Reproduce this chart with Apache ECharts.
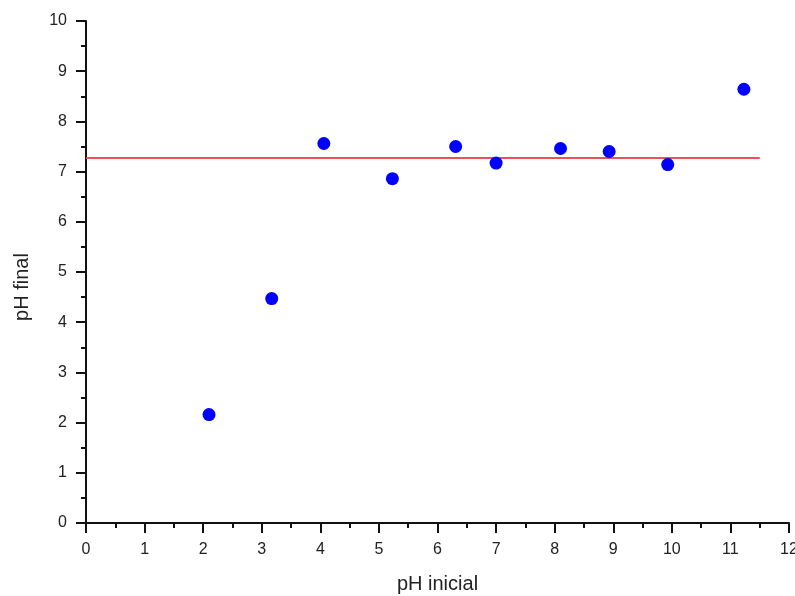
<!DOCTYPE html>
<html>
<head>
<meta charset="utf-8">
<script src="https://cdn.jsdelivr.net/npm/echarts@6/dist/echarts.min.js"></script>
<style>html,body{margin:0;padding:0;background:#fff}#c{width:795px;height:596px}</style>
</head>
<body>
<div id="c"></div>
<script>
var pHInicial = [2.10, 3.17, 4.06, 5.23, 6.31, 7.00, 8.10, 8.93, 9.93, 11.23];
var pHFinal   = [2.16, 4.47, 7.56, 6.86, 7.50, 7.17, 7.46, 7.40, 7.14, 8.64];
var meanLineX = [0, 11.5];
var meanLineY = [7.27, 7.27];

var points = pHInicial.map(function (x, i) { return [x, pHFinal[i]]; });
var meanLine = meanLineX.map(function (x, i) { return [x, meanLineY[i]]; });

var font = 'Liberation Sans, Arial, sans-serif';
var chart = echarts.init(document.getElementById('c'), null, {renderer: 'canvas'});
chart.setOption({
  animation: false,
  backgroundColor: '#fff',
  grid: {left: 86, right: 6, top: 21, bottom: 73, containLabel: false, outerBoundsMode: 'none'},
  xAxis: {
    type: 'value', min: 0, max: 12, interval: 1,
    name: 'pH inicial', nameLocation: 'middle', nameGap: 51,
    nameTextStyle: {fontFamily: font, fontSize: 20, color: '#222'},
    axisLine: {show: true, onZero: false, lineStyle: {color: '#111', width: 2}},
    axisTick: {show: true, inside: false, length: 10, lineStyle: {color: '#111', width: 2}},
    minorTick: {show: true, splitNumber: 2, length: 5, lineStyle: {color: '#111', width: 2}},
    axisLabel: {fontFamily: font, fontSize: 16, color: '#222', margin: 19},
    splitLine: {show: false}
  },
  yAxis: {
    type: 'value', min: 0, max: 10, interval: 1,
    name: 'pH final', nameLocation: 'middle', nameGap: 54,
    nameTextStyle: {fontFamily: font, fontSize: 20, color: '#222', padding: [0, 30, 0, 0]},
    axisLine: {show: true, onZero: false, lineStyle: {color: '#111', width: 2}},
    axisTick: {show: true, inside: false, length: 10, lineStyle: {color: '#111', width: 2}},
    minorTick: {show: true, splitNumber: 2, length: 5, lineStyle: {color: '#111', width: 2}},
    axisLabel: {fontFamily: font, fontSize: 16, color: '#222', margin: 19},
    splitLine: {show: false}
  },
  series: [
    {
      type: 'line', data: meanLine, symbol: 'none', silent: true,
      lineStyle: {color: '#f04f5a', width: 2}, z: 1
    },
    {
      type: 'scatter', data: points, symbol: 'circle', symbolSize: 13,
      itemStyle: {color: '#0000ff', opacity: 1}, z: 2
    }
  ]
});
</script>
</body>
</html>
